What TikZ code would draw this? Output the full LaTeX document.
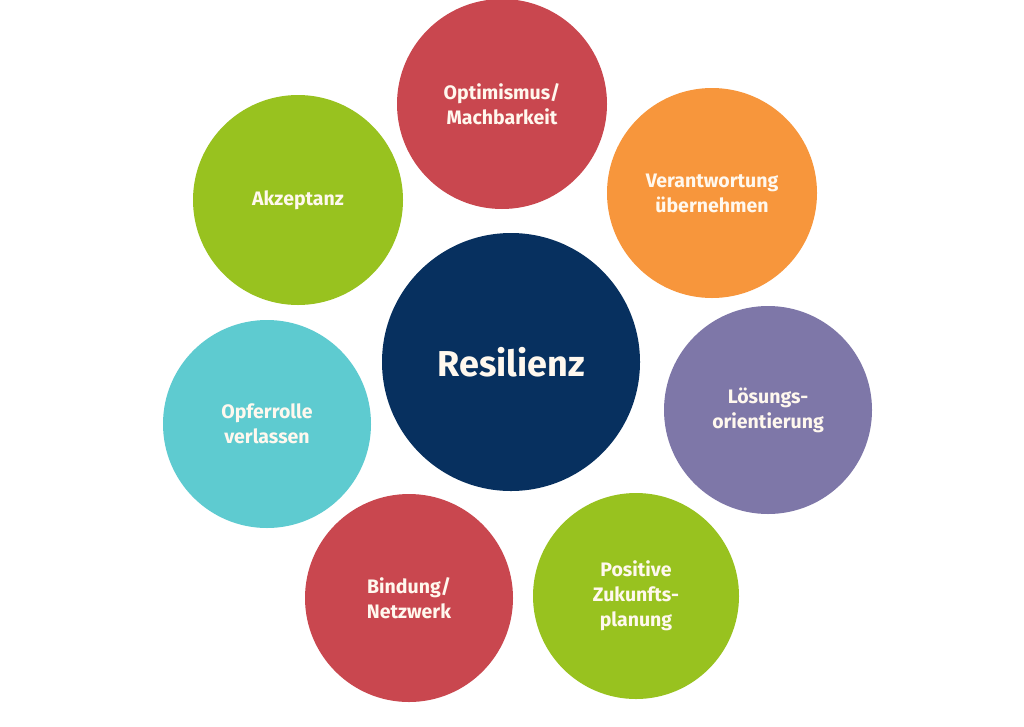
\documentclass[tikz,border=0pt]{standalone}
\usepackage{fontspec}
\setmainfont{Fira Sans}
\begin{document}
\begin{tikzpicture}[x=1pt,y=-1pt,
  bub/.style={circle,inner sep=0pt,text=txt,align=center,font=\bfseries\fontsize{19.5}{25}\selectfont},
]
\definecolor{cred}{HTML}{C9474F}
\definecolor{corange}{HTML}{F7963C}
\definecolor{cpurple}{HTML}{7E77A8}
\definecolor{cgreen}{HTML}{98C21F}
\definecolor{ccyan}{HTML}{5ECBD0}
\definecolor{cnavy}{HTML}{07305F}
\definecolor{txt}{HTML}{FFF8EE}
\useasboundingbox[fill=white] (0,0) rectangle (1024,726);
\node[bub,fill=cnavy,minimum size=258pt,font=\bfseries\fontsize{36}{40}\selectfont] (res) at (511,362) {Resilienz};
\node[bub,fill=cred,minimum size=210pt] (opt) at (502,104) {Optimismus/\\Machbarkeit};
\node[bub,fill=corange,minimum size=210pt] (ver) at (712,193) {Verantwortung\\übernehmen};
\node[bub,fill=cpurple,minimum size=208pt] (loe) at (768,410) {Lösungs-\\orientierung};
\node[bub,fill=cgreen,minimum size=206pt] (pos) at (636,596) {Positive\\Zukunfts-\\planung};
\node[bub,fill=cred,minimum size=208pt] (bin) at (409,598) {Bindung/\\Netzwerk};
\node[bub,fill=ccyan,minimum size=208pt] (opf) at (267,424) {Opferrolle\\verlassen};
\node[bub,fill=cgreen,minimum size=210pt] (akz) at (298,200) {Akzeptanz};
\end{tikzpicture}
\end{document}
